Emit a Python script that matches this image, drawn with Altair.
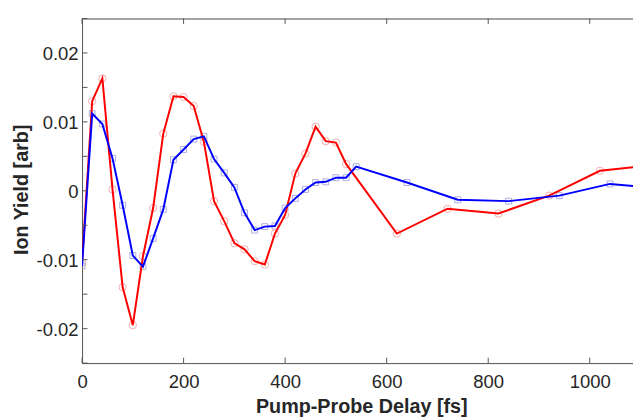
import altair as alt
import pandas as pd

# Red series (circles)
red_x = [0, 20, 40, 60, 80, 100, 120, 140, 160, 180, 200, 220, 240, 260, 280, 300, 320, 340, 360,
         380, 400, 420, 440, 460, 480, 500, 520, 620, 720, 820, 920, 1020, 1120]
red_y = [-0.0104, 0.0130, 0.0163, 0.0002, -0.0140, -0.0195, -0.0095, -0.0025, 0.0083, 0.0137,
         0.0136, 0.0123, 0.0071, -0.0015, -0.0044, -0.0076, -0.0085, -0.0102, -0.0107,
         -0.0062, -0.0035, 0.0025, 0.0054, 0.0093, 0.0072, 0.0070, 0.0039, -0.0062,
         -0.0026, -0.0033, -0.0007, 0.0029, 0.0037]

# Blue series (squares)
blue_x = [0, 20, 40, 60, 80, 100, 120, 140, 160, 180, 200, 220, 240, 260, 280, 300, 320, 340, 360,
          380, 400, 420, 440, 460, 480, 500, 520, 540, 640, 740, 840, 940, 1040, 1140]
blue_y = [-0.0109, 0.0112, 0.0097, 0.0047, -0.0021, -0.0094, -0.0110, -0.0069, -0.0027, 0.0045,
          0.0060, 0.0075, 0.0079, 0.0046, 0.0026, 0.0005, -0.0032, -0.0057, -0.0052,
          -0.0051, -0.0025, -0.0011, 0.0002, 0.0012, 0.0013, 0.0019, 0.0019, 0.0035,
          0.0012, -0.0013, -0.0015, -0.0007, 0.0010, 0.0003]

x_ticks = [0, 200, 400, 600, 800, 1000]
y_ticks = [-0.025, -0.02, -0.015, -0.01, -0.005, 0, 0.005, 0.01, 0.015, 0.02, 0.025]
y_labels = [-0.02, -0.01, 0, 0.01, 0.02]

W, H = 558, 349
XMAX = 1085.2
font = "Liberation Sans"
axis_col = "#555555"
text_col = "#262626"

red = pd.DataFrame({"x": red_x, "y": red_y})
blue = pd.DataFrame({"x": blue_x, "y": blue_y})

xs = alt.Scale(domain=[0, XMAX], nice=False, zero=False)
ys = alt.Scale(domain=[-0.025, 0.025], nice=False, zero=False)

x_axis = alt.Axis(values=x_ticks, ticks=False, tickSize=0, grid=False, domainColor=axis_col,
                  labelFont=font, labelFontSize=18.7, labelColor=text_col, labelPadding=9.5,
                  format="d",
                  title="Pump-Probe Delay [fs]", titleFont=font, titleFontSize=20,
                  titleFontWeight="bold", titleColor=text_col, titleX=282.8, titleY=50,
                  titleBaseline="alphabetic", titleAlign="center", labelFlush=False)
y_axis = alt.Axis(values=y_labels, ticks=False, tickSize=0, grid=False, domainColor=axis_col,
                  labelFont=font, labelFontSize=18.7, labelColor=text_col, labelPadding=4,
                  labelOffset=1,
                  labelExpr="abs(datum.value) < 1e-9 ? '0' : (datum.value < 0 ? '-' + format(-datum.value, '.2f') : format(datum.value, '.2f'))",
                  title="Ion Yield [arb]", titleFont=font, titleFontSize=20,
                  titleFontWeight="bold", titleColor=text_col, titleX=-55.5, titleY=173,
                  titleBaseline="alphabetic", titleAlign="center", titleAngle=270, labelFlush=False)

X = alt.X("x:Q", scale=xs, axis=x_axis)
Y = alt.Y("y:Q", scale=ys, axis=y_axis)

red_pts = alt.Chart(red).mark_point(shape="circle", size=55, filled=False, color="#ee8c8c",
                                    strokeWidth=1, clip=True).encode(x=X, y=Y)
blue_pts = alt.Chart(blue).mark_point(shape="square", size=36, filled=False, color="#8c8cd2",
                                      strokeWidth=1, clip=True).encode(x=X, y=Y)
red_line = alt.Chart(red).mark_line(color="#ff0000", strokeWidth=2, clip=True).encode(x=X, y=Y)
blue_line = alt.Chart(blue).mark_line(color="#0000ff", strokeWidth=2, clip=True).encode(x=X, y=Y)

# top frame line
top_line = alt.Chart(pd.DataFrame({"a": [0]})).mark_rule(color=axis_col, strokeWidth=1).encode(
    x=alt.value(0), x2=alt.value(W), y=alt.value(0.5))

xt = pd.DataFrame({"x": x_ticks})
yt = pd.DataFrame({"y": y_ticks})
bottom_ticks = alt.Chart(xt).mark_rule(color=axis_col, strokeWidth=1).encode(
    x=X, y=alt.value(H), y2=alt.value(H - 5.5))
top_ticks = alt.Chart(xt).mark_rule(color=axis_col, strokeWidth=1).encode(
    x=X, y=alt.value(0), y2=alt.value(5.5))
left_ticks = alt.Chart(yt).mark_rule(color=axis_col, strokeWidth=1).encode(
    y=Y, x=alt.value(0), x2=alt.value(5.5))

chart = alt.layer(
    red_pts, blue_pts, red_line, blue_line, top_line, bottom_ticks, top_ticks, left_ticks
).properties(
    width=W, height=H,
    autosize=alt.AutoSizeParams(type="none"),
    padding={"left": 75, "top": 8, "right": 0, "bottom": 55},
).configure_view(stroke=None).configure(background="white")

chart.save("out.html", embed_options={"renderer": "svg", "actions": False})
